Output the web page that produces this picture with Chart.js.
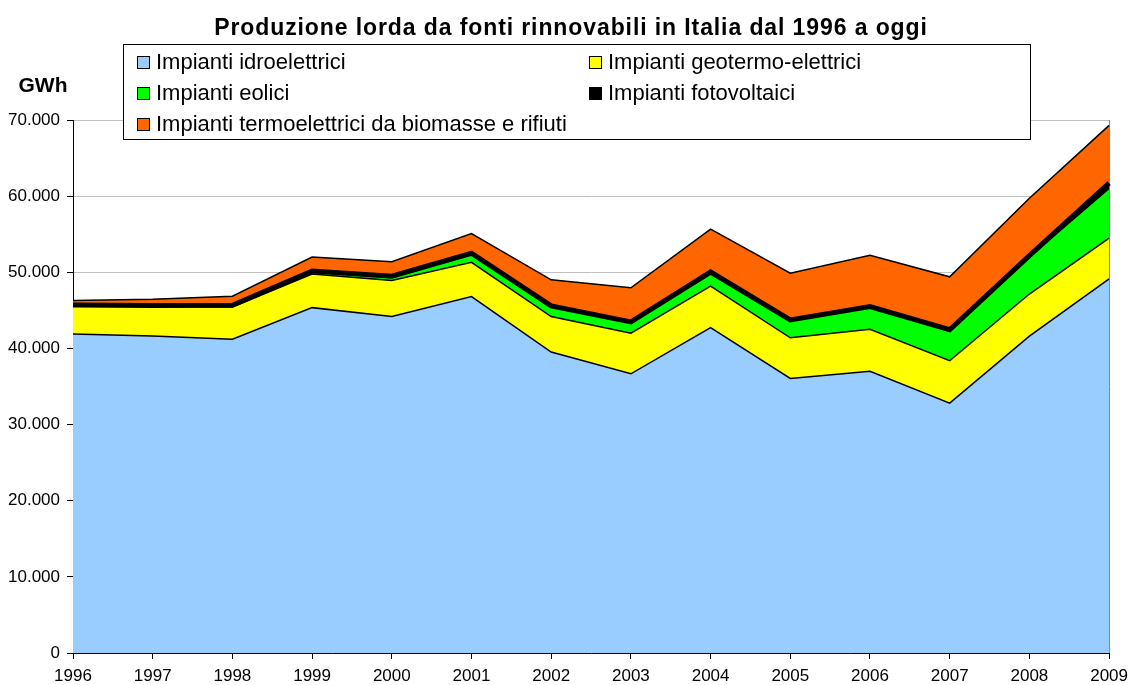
<!DOCTYPE html>
<html>
<head>
<meta charset="utf-8">
<title>Produzione lorda da fonti rinnovabili</title>
<script src="https://cdn.jsdelivr.net/npm/chart.js@4"></script>
<style>
  body { margin: 0; background: #fff; }
  #wrap { width: 1135px; height: 685px; }
</style>
</head>
<body>
<div id="wrap"><canvas id="renewChart" width="1135" height="685"></canvas></div>
<script>
// --- dati (GWh) ---
const years = ['1996','1997','1998','1999','2000','2001','2002','2003','2004','2005','2006','2007','2008','2009'];
const idro   = [41907, 41617, 41213, 45358, 44205, 46810, 39519, 36670, 42744, 36067, 36994, 32815, 41623, 49138];
const geo    = [3762, 3905, 4214, 4403, 4705, 4507, 4662, 5341, 5437, 5324, 5527, 5569, 5520, 5342];
const eolico = [33, 118, 232, 403, 563, 1179, 1404, 1458, 1847, 2343, 2971, 4034, 4861, 6543];
const foto   = [7, 7, 6, 6, 6, 5, 4, 5, 4, 4, 2, 39, 193, 676];
const bio    = [600, 800, 1200, 1830, 1900, 2590, 3420, 4490, 5640, 6150, 6745, 6950, 7520, 7600];
const yTicks = [0, 10000, 20000, 30000, 40000, 50000, 60000, 70000];

const titleText = 'Produzione lorda da fonti rinnovabili in Italia dal 1996 a oggi';
const FONT = 'Arial, "Liberation Sans", sans-serif';

function fmtIt(v) {
    return String(v).replace(/\B(?=(\d{3})+(?!\d))/g, '.');
}

function serie(label, data, color, idx, bw) {
    return {
        label: label, data: data, backgroundColor: color, borderColor: '#000',
        borderWidth: bw || 1.5, pointRadius: 0, tension: 0,
        fill: idx === 0 ? 'origin' : '-1'
    };
}

// titolo, unità, legenda a riquadro e bordo destro dell'area
const decorPlugin = {
    id: 'decor',
    beforeDatasetsDraw(chart) {
        const ctx = chart.ctx, a = chart.chartArea;
        ctx.save();
        ctx.strokeStyle = '#808080'; ctx.lineWidth = 1;
        ctx.beginPath();
        ctx.moveTo(a.right + 0.5, a.top); ctx.lineTo(a.right + 0.5, a.bottom);
        ctx.stroke();
        ctx.restore();
    },
    afterDraw(chart) {
        const ctx = chart.ctx;
        ctx.save();
        ctx.fillStyle = '#000';
        ctx.textAlign = 'center'; ctx.textBaseline = 'alphabetic';
        ctx.font = 'bold 21px ' + FONT;
        ctx.fillText('GWh', 43, 92);
        ctx.font = 'bold 23px ' + FONT;
        ctx.letterSpacing = '0.9px';
        ctx.fillText(titleText, 571, 35);
        ctx.letterSpacing = '0px';

        // legenda
        ctx.fillStyle = '#fff';
        ctx.fillRect(123, 44, 907, 95);
        ctx.strokeStyle = '#000'; ctx.lineWidth = 1;
        ctx.strokeRect(123.5, 44.5, 907, 95);
        const pos = [[137, 62], [589, 62], [137, 93], [589, 93], [137, 124]];
        ctx.font = '22px ' + FONT;
        ctx.textAlign = 'left'; ctx.textBaseline = 'middle';
        chart.data.datasets.forEach((ds, i) => {
            const [x, y] = pos[i];
            ctx.fillStyle = ds.backgroundColor;
            ctx.fillRect(x, y - 6, 13, 13);
            ctx.strokeStyle = '#000'; ctx.lineWidth = 1;
            ctx.strokeRect(x + 0.5, y - 5.5, 12, 12);
            ctx.fillStyle = '#000';
            ctx.fillText(ds.label, x + 19, y + 1);
        });
        ctx.restore();
    }
};

new Chart(document.getElementById('renewChart').getContext('2d'), {
    type: 'line',
    data: {
        labels: years,
        datasets: [
            serie('Impianti idroelettrici', idro, '#99CCFF', 0),
            serie('Impianti geotermo-elettrici', geo, '#FFFF00', 1),
            serie('Impianti eolici', eolico, '#00FF00', 2),
            serie('Impianti fotovoltaici', foto, '#000000', 3, 5),
            serie('Impianti termoelettrici da biomasse e rifiuti', bio, '#FF6600', 4)
        ]
    },
    options: {
        responsive: false,
        animation: false,
        layout: { padding: { top: 120, right: 22, left: 0, bottom: 0 } },
        scales: {
            x: {
                offset: false,
                grid: { drawOnChartArea: false, tickLength: 6, tickColor: '#000' },
                border: { color: '#000', width: 1 },
                ticks: { color: '#000', font: { family: FONT, size: 17 }, padding: 7, maxRotation: 0, autoSkip: false },
                afterFit(s) { s.height = 32; }
            },
            y: {
                stacked: true,
                min: 0, max: 70000,
                afterBuildTicks(s) { s.ticks = yTicks.map(v => ({ value: v })); },
                grid: { color: '#C0C0C0', tickLength: 6, tickColor: '#000' },
                border: { color: '#000', width: 1 },
                ticks: { color: '#000', font: { family: FONT, size: 17 }, padding: 7, callback: v => fmtIt(v) },
                afterFit(s) { s.width = 73; }
            }
        },
        plugins: {
            legend: { display: false },
            title: { display: false },
            tooltip: { enabled: false },
            filler: { drawTime: 'beforeDatasetsDraw' }
        }
    },
    plugins: [decorPlugin]
});
</script>
</body>
</html>
